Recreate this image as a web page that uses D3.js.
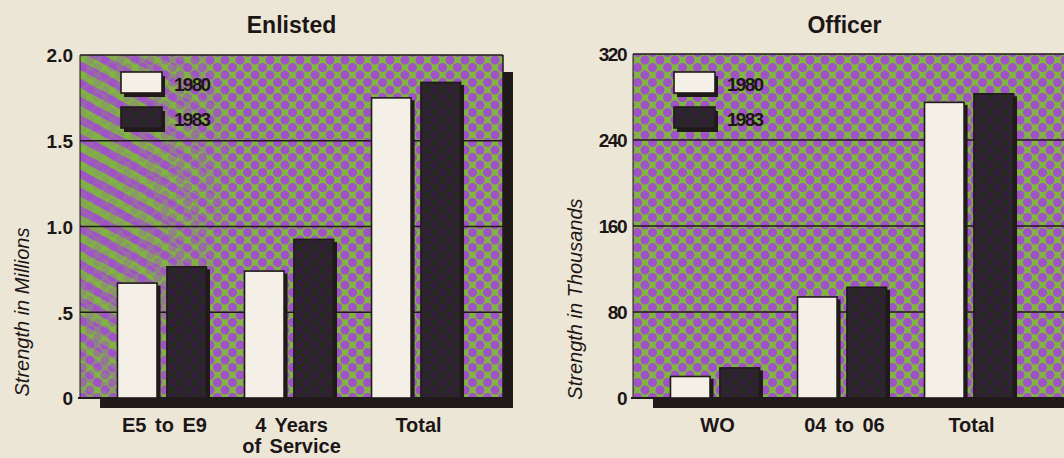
<!DOCTYPE html>
<html>
<head>
<meta charset="utf-8">
<script src="https://cdn.jsdelivr.net/npm/d3@7"></script>
<style>
  html, body { margin: 0; padding: 0; background: #ece6d6; }
  svg { display: block; }
  text { font-family: "Liberation Sans", Arial, Helvetica, sans-serif; fill: #1c1616; }
</style>
</head>
<body>
<svg id="chart" width="1064" height="458"></svg>
<script>
// Military strength by grade group, 1980 vs 1983
const seriesYears = ["1980", "1983"];

const enlistedCategories = ["E5 to E9", "4 Years\nof Service", "Total"];
const enlisted1980 = [0.67, 0.74, 1.75];   // millions
const enlisted1983 = [0.765, 0.925, 1.84];
const enlistedTicks = [0, 0.5, 1, 1.5, 2];
const enlistedTickLabels = ["0", ".5", "1.0", "1.5", "2.0"];

const officerCategories = ["WO", "04 to 06", "Total"];
const officer1980 = [20, 94, 275];          // thousands
const officer1983 = [28, 103, 283];
const officerTicks = [0, 80, 160, 240, 320];
const officerTickLabels = ["0", "80", "160", "240", "320"];

const ink = "#211a1a";
const paleBar = "#f4f0e7";

const svg = d3.select("#chart");
const defs = svg.append("defs");

// halftone dot screen used for the plot background
const dots = defs.append("pattern")
  .attr("id", "dots").attr("patternUnits", "userSpaceOnUse")
  .attr("width", 15).attr("height", 15);
dots.append("rect").attr("width", 15).attr("height", 15).attr("fill", "#80b540");
[[0, 0], [15, 0], [0, 15], [15, 15], [7.5, 7.5]].forEach(([cx, cy]) =>
  dots.append("circle").attr("cx", cx).attr("cy", cy).attr("r", 4.5).attr("fill", "#a052c6"));

// the same screen, darkened, for the 1983 bars
const darkDots = defs.append("pattern")
  .attr("id", "darkDots").attr("patternUnits", "userSpaceOnUse")
  .attr("width", 15).attr("height", 15);
darkDots.append("rect").attr("width", 15).attr("height", 15).attr("fill", "#252b1f");
[[0, 0], [15, 0], [0, 15], [15, 15], [7.5, 7.5]].forEach(([cx, cy]) =>
  darkDots.append("circle").attr("cx", cx).attr("cy", cy).attr("r", 4.5).attr("fill", "#331e3a"));

// diagonal banding along the left edge of the first panel
const bands = defs.append("pattern")
  .attr("id", "bands").attr("patternUnits", "userSpaceOnUse")
  .attr("width", 16).attr("height", 16)
  .attr("patternTransform", "rotate(28)");
bands.append("rect").attr("width", 16).attr("height", 16).attr("fill", "#80b540");
bands.append("rect").attr("width", 16).attr("height", 8).attr("fill", "#a052c6");

const fade = defs.append("radialGradient")
  .attr("id", "fade").attr("gradientUnits", "userSpaceOnUse")
  .attr("cx", 80).attr("cy", 170).attr("r", 200)
  .attr("gradientTransform", "translate(80,170) scale(0.8,1.4) translate(-80,-170)");
fade.append("stop").attr("offset", 0).attr("stop-color", "#fff").attr("stop-opacity", 1);
fade.append("stop").attr("offset", 0.5).attr("stop-color", "#fff").attr("stop-opacity", 0.75);
fade.append("stop").attr("offset", 1).attr("stop-color", "#fff").attr("stop-opacity", 0);
defs.append("mask").attr("id", "fadeMask")
  .append("rect").attr("x", 0).attr("y", 0).attr("width", 600).attr("height", 458)
  .attr("fill", "url(#fade)");

const soft = defs.append("filter").attr("id", "soft")
  .attr("x", "-2%").attr("y", "-2%").attr("width", "104%").attr("height", "104%");
soft.append("feGaussianBlur").attr("stdDeviation", 0.7);

function drawPanel(cfg) {
  const g = svg.append("g");
  const y = d3.scaleLinear().domain(cfg.domain).range([398, cfg.top]);
  const x = d3.scalePoint().domain(cfg.categories).range([cfg.left, cfg.left + 423]).padding(0.665);
  const inner = d3.scaleBand().domain(seriesYears).range([-47, 42]).paddingInner(0.2);
  const right = cfg.frameRight;
  const base = y(0), top = y(cfg.domain[1]);

  // drop shadow of the plot frame
  g.append("rect").attr("x", right).attr("y", top + 17)
    .attr("width", 10).attr("height", base - top - 7).attr("fill", ink);
  g.append("rect").attr("x", cfg.left + 20).attr("y", base)
    .attr("width", right - cfg.left - 10).attr("height", 10).attr("fill", ink);

  // screened background
  g.append("rect").attr("x", cfg.left).attr("y", top)
    .attr("width", right - cfg.left).attr("height", base - top)
    .attr("fill", "url(#dots)").attr("filter", "url(#soft)");
  if (cfg.bands) {
    g.append("rect").attr("x", cfg.left).attr("y", top)
      .attr("width", 220).attr("height", base - top)
      .attr("fill", "url(#bands)").attr("mask", "url(#fadeMask)")
      .attr("opacity", 0.9).attr("filter", "url(#soft)");
  }

  // frame and gridlines
  g.append("line").attr("x1", cfg.left).attr("x2", cfg.left).attr("y1", top).attr("y2", base)
    .attr("stroke", ink).attr("stroke-width", 1);
  g.append("line").attr("x1", right).attr("x2", right).attr("y1", top).attr("y2", base)
    .attr("stroke", ink).attr("stroke-width", 1.5);
  g.selectAll(".grid").data(cfg.ticks).join("line")
    .attr("x1", d => d === 0 ? cfg.left - 2 : cfg.left).attr("x2", right)
    .attr("y1", d => y(d)).attr("y2", d => y(d))
    .attr("stroke", ink).attr("stroke-width", d => d === 0 ? 2 : 1.6);

  // bars
  const rows = cfg.categories.flatMap((c, i) => [
    { cat: c, year: "1980", v: cfg.s1980[i] },
    { cat: c, year: "1983", v: cfg.s1983[i] }
  ]);
  const bars = g.selectAll(".bar").data(rows).join("g");
  bars.append("rect")
    .attr("x", d => x(d.cat) + inner(d.year) + 3.5)
    .attr("y", d => y(d.v) + 2.5)
    .attr("width", inner.bandwidth())
    .attr("height", d => base - y(d.v) - 2.5)
    .attr("fill", ink);
  bars.append("rect")
    .attr("x", d => x(d.cat) + inner(d.year))
    .attr("y", d => y(d.v))
    .attr("width", inner.bandwidth())
    .attr("height", d => base - y(d.v))
    .attr("fill", d => d.year === "1980" ? paleBar : "url(#darkDots)")
    .attr("stroke", ink).attr("stroke-width", 1.6);

  // legend
  const lg = g.append("g").attr("transform", `translate(${cfg.left + 41},72)`);
  seriesYears.forEach((yr, i) => {
    const row = lg.append("g").attr("transform", `translate(0,${i * 35})`);
    row.append("rect").attr("x", 3).attr("y", 4).attr("width", 41).attr("height", 21).attr("fill", ink);
    row.append("rect").attr("x", 0).attr("y", 0).attr("width", 41).attr("height", 21)
      .attr("fill", yr === "1980" ? paleBar : "url(#darkDots)")
      .attr("stroke", ink).attr("stroke-width", 1.6);
    row.append("text").attr("x", 53).attr("y", 19)
      .attr("font-size", 19).attr("font-weight", "bold").attr("letter-spacing", -1.7)
      .text(yr);
  });

  // y axis labels
  const yAxis = d3.axisLeft(y).tickValues(cfg.ticks).tickSize(0).tickPadding(0)
    .tickFormat((d, i) => cfg.tickLabels[i]);
  const ya = g.append("g").attr("transform", `translate(${cfg.left - 7},0)`).call(yAxis);
  ya.select(".domain").remove();
  ya.selectAll("text").attr("font-size", cfg.tickSize).attr("font-weight", "bold")
    .attr("letter-spacing", cfg.tickSpacing).attr("dy", "0.36em")
    .style("font-family", '"Liberation Sans", Arial, sans-serif')
    .attr("fill", "#1c1616");

  // category labels
  const xl = g.selectAll(".xlab").data(cfg.categories).join("text")
    .attr("x", d => x(d)).attr("y", 432)
    .attr("text-anchor", "middle").attr("font-size", 20).attr("font-weight", "bold")
    .attr("word-spacing", 3);
  xl.selectAll("tspan").data(d => d.split("\n")).join("tspan")
    .attr("x", function () { return d3.select(this.parentNode).attr("x"); })
    .attr("dy", (d, i) => i === 0 ? 0 : 21)
    .text(d => d);

  // titles
  g.append("text").attr("x", x(cfg.categories[1])).attr("y", 33)
    .attr("text-anchor", "middle").attr("font-size", 23).attr("font-weight", "bold")
    .text(cfg.title);
  g.append("text")
    .attr("transform", `translate(${cfg.yLabelX},${cfg.yLabelY}) rotate(-90)`)
    .attr("text-anchor", "middle").attr("font-size", 20).attr("font-style", "italic")
    .text(cfg.yLabel);
}

drawPanel({
  title: "Enlisted", left: 80, frameRight: 503, top: 55,
  domain: [0, 2], categories: enlistedCategories,
  s1980: enlisted1980, s1983: enlisted1983,
  ticks: enlistedTicks, tickLabels: enlistedTickLabels, tickSize: 19, tickSpacing: 0,
  yLabel: "Strength in Millions", yLabelX: 29, yLabelY: 312, bands: true
});

drawPanel({
  title: "Officer", left: 633, frameRight: 1090, top: 54,
  domain: [0, 320], categories: officerCategories,
  s1980: officer1980, s1983: officer1983,
  ticks: officerTicks, tickLabels: officerTickLabels, tickSize: 19, tickSpacing: -1.5,
  yLabel: "Strength in Thousands", yLabelX: 582, yLabelY: 299, bands: false
});
</script>
</body>
</html>
